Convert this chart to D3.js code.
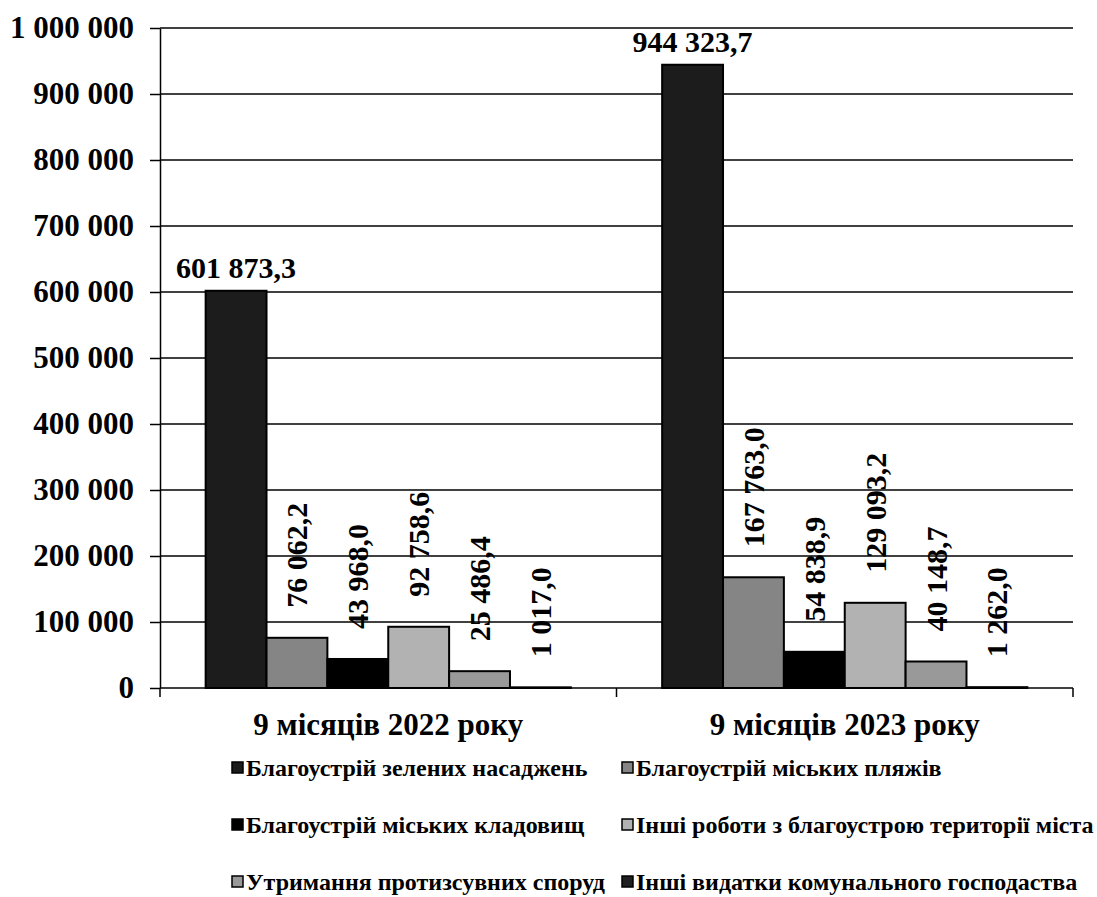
<!DOCTYPE html>
<html>
<head>
<meta charset="utf-8">
<script src="https://cdn.jsdelivr.net/npm/d3@7"></script>
<style>
  body { margin: 0; background: #fff; }
  text { font-family: "Liberation Serif", "Times New Roman", serif; font-weight: bold; fill: #000; }
</style>
</head>
<body>
<div id="chart"></div>
<script>

var categories = ["9 місяців 2022 року", "9 місяців 2023 року"];
var seriesNames = [
  "Благоустрій зелених насаджень",
  "Благоустрій міських пляжів",
  "Благоустрій міських кладовищ",
  "Інші роботи з благоустрою території міста",
  "Утримання протизсувних споруд",
  "Інші видатки комунального господаства"
];
var values2022 = [601873.3, 76062.2, 43968.0, 92758.6, 25486.4, 1017.0];
var values2023 = [944323.7, 167763.0, 54838.9, 129093.2, 40148.7, 1262.0];
var yTicks = [0, 100000, 200000, 300000, 400000, 500000, 600000, 700000, 800000, 900000, 1000000];

var colors = ["#1c1c1c", "#858585", "#000000", "#b2b2b2", "#999999", "#202020"];

var W = 1097, H = 897;
var margin = { left: 160, right: 24, top: 28, bottom: 209 };

var svg = d3.select("#chart").append("svg")
    .attr("width", W)
    .attr("height", H);

var locale = d3.formatLocale({ decimal: ",", thousands: "\u00a0", grouping: [3], currency: ["", ""] });
var fmtTick = locale.format(",.0f");
var fmtVal = locale.format(",.1f");

var yScale = d3.scaleLinear()
    .domain([0, 1000000])
    .range([H - margin.bottom, margin.top]);

var x0 = d3.scaleBand()
    .domain(categories)
    .range([margin.left, W - margin.right])
    .paddingInner(0.2)
    .paddingOuter(0.1);

var x1 = d3.scaleBand()
    .domain(d3.range(seriesNames.length))
    .range([0, x0.bandwidth()]);

var plotLeft = margin.left, plotRight = W - margin.right, plotBottom = H - margin.bottom;

// gridlines
svg.append("g")
    .selectAll("line")
    .data(yTicks.slice(1))
    .enter().append("line")
    .attr("x1", plotLeft)
    .attr("x2", plotRight)
    .attr("y1", function(d) { return yScale(d); })
    .attr("y2", function(d) { return yScale(d); })
    .attr("stroke", "#000")
    .attr("stroke-width", 1.3);

var yAxis = d3.axisLeft(yScale)
    .tickValues(yTicks)
    .tickFormat(fmtTick)
    .tickSize(10)
    .tickSizeOuter(0)
    .tickPadding(16);

var gy = svg.append("g")
    .attr("transform", "translate(" + plotLeft + ",0)")
    .call(yAxis);
gy.selectAll("text").style("font-size", "31px").style("font-family", "Liberation Serif").style("font-weight", "bold");
gy.selectAll("line, path").attr("stroke", "#000").attr("stroke-width", 1.5);

var groups = [values2022, values2023];

groups.forEach(function(vals, gi) {
    var g = svg.append("g")
        .attr("transform", "translate(" + x0(categories[gi]) + ",0)");

    g.selectAll("rect")
        .data(vals)
        .enter().append("rect")
        .attr("x", function(d, i) { return x1(i); })
        .attr("y", function(d) { return yScale(d); })
        .attr("width", x1.bandwidth())
        .attr("height", function(d) { return yScale(0) - yScale(d); })
        .attr("fill", function(d, i) { return colors[i]; })
        .attr("stroke", "#000")
        .attr("stroke-width", 2);

    // first bar label horizontal
    g.append("text")
        .attr("x", x1(0) + x1.bandwidth() / 2)
        .attr("y", yScale(vals[0]) - 13)
        .attr("text-anchor", "middle")
        .style("font-size", "30px")
        .text(fmtVal(vals[0]));

    // other labels rotated
    g.selectAll(".vlab")
        .data(vals.slice(1))
        .enter().append("text")
        .attr("class", "vlab")
        .attr("transform", function(d, i) {
            return "translate(" + (x1(i + 1) + x1.bandwidth() / 2) + "," + (yScale(d) - 30) + ") rotate(-90)";
        })
        .attr("dy", "0.35em")
        .attr("text-anchor", "start")
        .style("font-size", "30px")
        .text(function(d) { return fmtVal(d); });
});

// x axis line and ticks
svg.append("line")
    .attr("x1", plotLeft).attr("x2", plotRight)
    .attr("y1", plotBottom).attr("y2", plotBottom)
    .attr("stroke", "#000").attr("stroke-width", 1.5);

var bounds = [plotLeft, x0(categories[1]) - x0.step() * x0.paddingInner() / 2, plotRight];
svg.selectAll(".xtick")
    .data(bounds)
    .enter().append("line")
    .attr("class", "xtick")
    .attr("x1", function(d) { return d; })
    .attr("x2", function(d) { return d; })
    .attr("y1", plotBottom)
    .attr("y2", plotBottom + 9)
    .attr("stroke", "#000")
    .attr("stroke-width", 1.5);

svg.selectAll(".xlab")
    .data(categories)
    .enter().append("text")
    .attr("class", "xlab")
    .attr("x", function(d) { return x0(d) + x0.bandwidth() / 2; })
    .attr("y", plotBottom + 47)
    .attr("text-anchor", "middle")
    .style("font-size", "31px")
    .text(function(d) { return d; });

// legend
var legendX = [232, 622];
var legendY = [768, 825, 882];
var leg = svg.selectAll(".leg")
    .data(seriesNames)
    .enter().append("g")
    .attr("class", "leg")
    .attr("transform", function(d, i) {
        return "translate(" + legendX[i % 2] + "," + legendY[Math.floor(i / 2)] + ")";
    });

leg.append("rect")
    .attr("x", 0)
    .attr("y", -6)
    .attr("width", 11)
    .attr("height", 11)
    .attr("fill", function(d, i) { return colors[i]; })
    .attr("stroke", "#000")
    .attr("stroke-width", 1.5);

leg.append("text")
    .attr("x", 14)
    .attr("dy", "0.33em")
    .style("font-size", "24px")
    .text(function(d) { return d; });

</script>
</body>
</html>
